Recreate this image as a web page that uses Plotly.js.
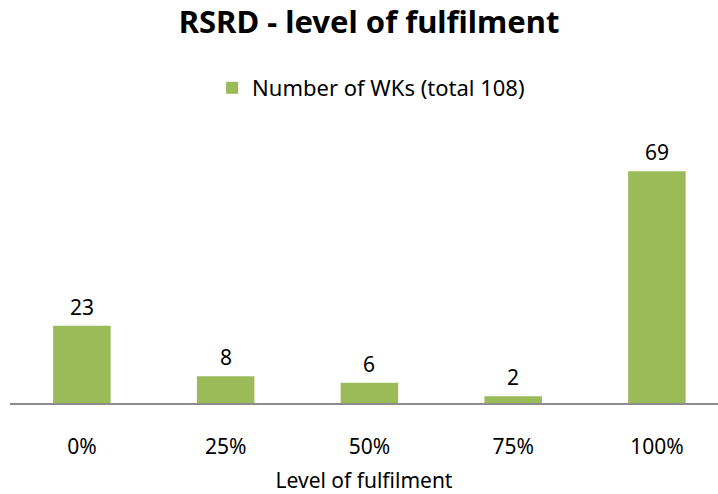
<!DOCTYPE html>
<html>
<head>
<meta charset="utf-8">
<script src="https://cdn.plot.ly/plotly-3.0.1.min.js"></script>
<style>
  html, body { margin: 0; padding: 0; background: #fff; }
  #chart { width: 718px; height: 494px; }
</style>
</head>
<body>
<div id="chart"></div>
<script>
// RSRD fulfilment levels, counts
const categories = ['0%', '25%', '50%', '75%', '100%'];
const counts = [23, 8, 6, 2, 69];
const seriesName = 'Number of WKs (total 108)';

const FONT = 'Noto Sans, sans-serif';
const GREEN = '#9bbb59';
const TXT = 21;

const bars = {
  type: 'bar',
  x: categories,
  y: counts,
  name: seriesName,
  marker: { color: GREEN },
  hoverinfo: 'x+y',
  showlegend: true
};

// value labels above each bar
const labels = categories.map((c, i) => ({
  x: c, y: counts[i], xref: 'x', yref: 'y',
  text: String(counts[i]), showarrow: false,
  yanchor: 'bottom', yshift: 3,
  font: { family: FONT, size: TXT, color: '#000' }
}));

const layout = {
  width: 718, height: 494,
  paper_bgcolor: '#fff', plot_bgcolor: '#fff',
  font: { family: FONT, color: '#000' },
  margin: { l: 10, r: 0, t: 121, b: 91 },
  title: {
    text: '<b>RSRD - level of fulfilment</b>',
    font: { family: FONT, size: 31, color: '#000' },
    x: 0.514, xanchor: 'center', y: 0.955, yanchor: 'middle'
  },
  showlegend: true,
  legend: {
    orientation: 'h', x: 0.51, xanchor: 'center', y: 1.117, yanchor: 'middle',
    font: { family: FONT, size: 22, color: '#000' },
    itemwidth: 30
  },
  bargap: 0.6,
  xaxis: {
    type: 'category',
    range: [-0.5, 4.425],
    showline: true, linecolor: '#8c8c8c', linewidth: 2,
    ticks: '', showgrid: false, zeroline: false,
    ticklabelstandoff: 24,
    tickfont: { family: FONT, size: TXT, color: '#000' },
    title: { text: 'Level of fulfilment', standoff: 14, font: { family: FONT, size: TXT, color: '#000' } }
  },
  yaxis: {
    type: 'linear',
    range: [0, 84], visible: false, showgrid: false, zeroline: false
  },
  annotations: labels
};

Plotly.newPlot('chart', [bars], layout, { displayModeBar: false, staticPlot: true });
</script>
</body>
</html>
